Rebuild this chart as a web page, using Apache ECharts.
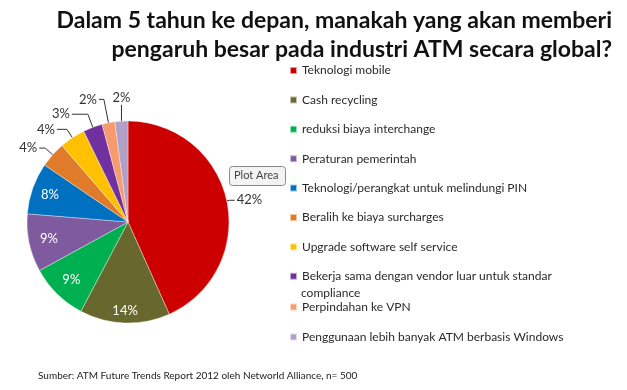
<!DOCTYPE html>
<html><head><meta charset="utf-8">
<script src="https://cdn.jsdelivr.net/npm/echarts@6/dist/echarts.min.js"></script>
<style>html,body{margin:0;padding:0;background:#fff}#c{width:627px;height:390px}</style>
</head><body><div id="c"></div>
<script>
const categories = [
  'Teknologi mobile',
  'Cash recycling',
  'reduksi biaya interchange',
  'Peraturan pemerintah',
  'Teknologi/perangkat untuk melindungi PIN',
  'Beralih ke biaya surcharges',
  'Upgrade software self service',
  'Bekerja sama dengan vendor luar untuk standar',
  'Perpindahan ke VPN',
  'Penggunaan lebih banyak ATM berbasis Windows'
];
const values = [42, 14, 9, 9, 8, 4, 4, 3, 2, 2];
const colors = ['#CC0000','#68682E','#00B050','#7F5A9E','#0070C0','#E07B2A','#FFC000','#7030A0','#F79A6E','#B0A0C8'];
const titleLines = ['Dalam 5 tahun ke depan, manakah yang akan memberi', 'pengaruh besar pada industri ATM secara global?'];
const sourceText = 'Sumber: ATM Future Trends Report 2012 oleh Networld Alliance, n= 500';

const CX = 128, CY = 222, R = 101;
const insideIdx = new Set([1,2,3,4]);
const insideK = {1:0.88, 2:0.8, 3:0.8, 4:0.82};
const lineLen = {0:[3,5], 5:[10,6], 6:[10,10], 7:[14,16], 8:[24,5], 9:[15,0]};
const data = categories.map((n,i)=>{
  const d = {name:n, value:values[i], itemStyle:{color:colors[i]}};
  if (insideIdx.has(i)) d.label = {position:'inner', color:'#fff'};
  if (lineLen[i]) d.labelLine = {length:lineLen[i][0], length2:lineLen[i][1]};
  return d;
});
const font = 'Lato, "Open Sans", sans-serif';
const chart = echarts.init(document.getElementById('c'), null, {renderer:'canvas'});
chart.setOption({
  animation:false,
  title:[
    {text:sourceText, left:33, top:366,
     textStyle:{fontFamily:font, fontSize:10, fontWeight:'normal', color:'#222'}}
  ],
  legend:[
    {data:categories.slice(0,8), orient:'vertical', left:284, top:58, itemWidth:7, itemHeight:7, itemGap:14.4,
     icon:'rect', textStyle:{fontFamily:font, fontSize:12, lineHeight:15, color:'#2a2a2a'}, selectedMode:false},
    {data:categories.slice(8), orient:'vertical', left:284, top:294.5, itemWidth:7, itemHeight:7, itemGap:15,
     icon:'rect', textStyle:{fontFamily:font, fontSize:12, lineHeight:15, color:'#2a2a2a'}, selectedMode:false}
  ],
  graphic:[
    {type:'text', x:612, y:9, style:{text:titleLines[0], font:'bold 23px '+font, fill:'#111', textAlign:'right'}},
    {type:'text', x:612, y:38, style:{text:titleLines[1], font:'bold 23px '+font, fill:'#111', textAlign:'right'}},
    {type:'text', left:301, top:287, style:{text:'compliance', font:'12px '+font, fill:'#2a2a2a'}},
    {type:'rect', shape:{x:229.5, y:166.5, width:56, height:19, r:3}, style:{fill:'#f3f3f3', stroke:'#8a8a8a', lineWidth:1}},
    {type:'text', left:234, top:169.5, style:{text:'Plot Area', font:'11px '+font, fill:'#444'}}
  ],
  series:[{
    type:'pie', center:[CX,CY], radius:R, startAngle:90, clockwise:true,
    avoidLabelOverlap:false,
    data:data,
    itemStyle:{borderColor:'rgba(255,255,255,0.6)', borderWidth:0.6},
    label:{show:true, formatter:(p)=>values[p.dataIndex]+'%', fontFamily:font, fontSize:13, color:'#333', overflow:'none', distanceToLabelLine:2},
    labelLine:{show:true, length:10, length2:6, lineStyle:{color:'#333', width:1}},
    labelLayout:function(p){
      if (p.dataIndex === 9 && p.labelLinePoints) {
        const pts = p.labelLinePoints, e = pts[pts.length-1];
        return {x:e[0]+1, y:e[1]-8, align:'center', verticalAlign:'middle'};
      }
      if (!insideIdx.has(p.dataIndex)) return {};
      const lx = p.labelRect.x + p.labelRect.width/2, ly = p.labelRect.y + p.labelRect.height/2;
      const dx = lx - CX, dy = ly - CY, d = Math.sqrt(dx*dx+dy*dy) || 1;
      const k = insideK[p.dataIndex]*R/d;
      return {dx: dx*k - dx, dy: dy*k - dy};
    },
    emphasis:{disabled:true}
  }]
});
</script></body></html>
